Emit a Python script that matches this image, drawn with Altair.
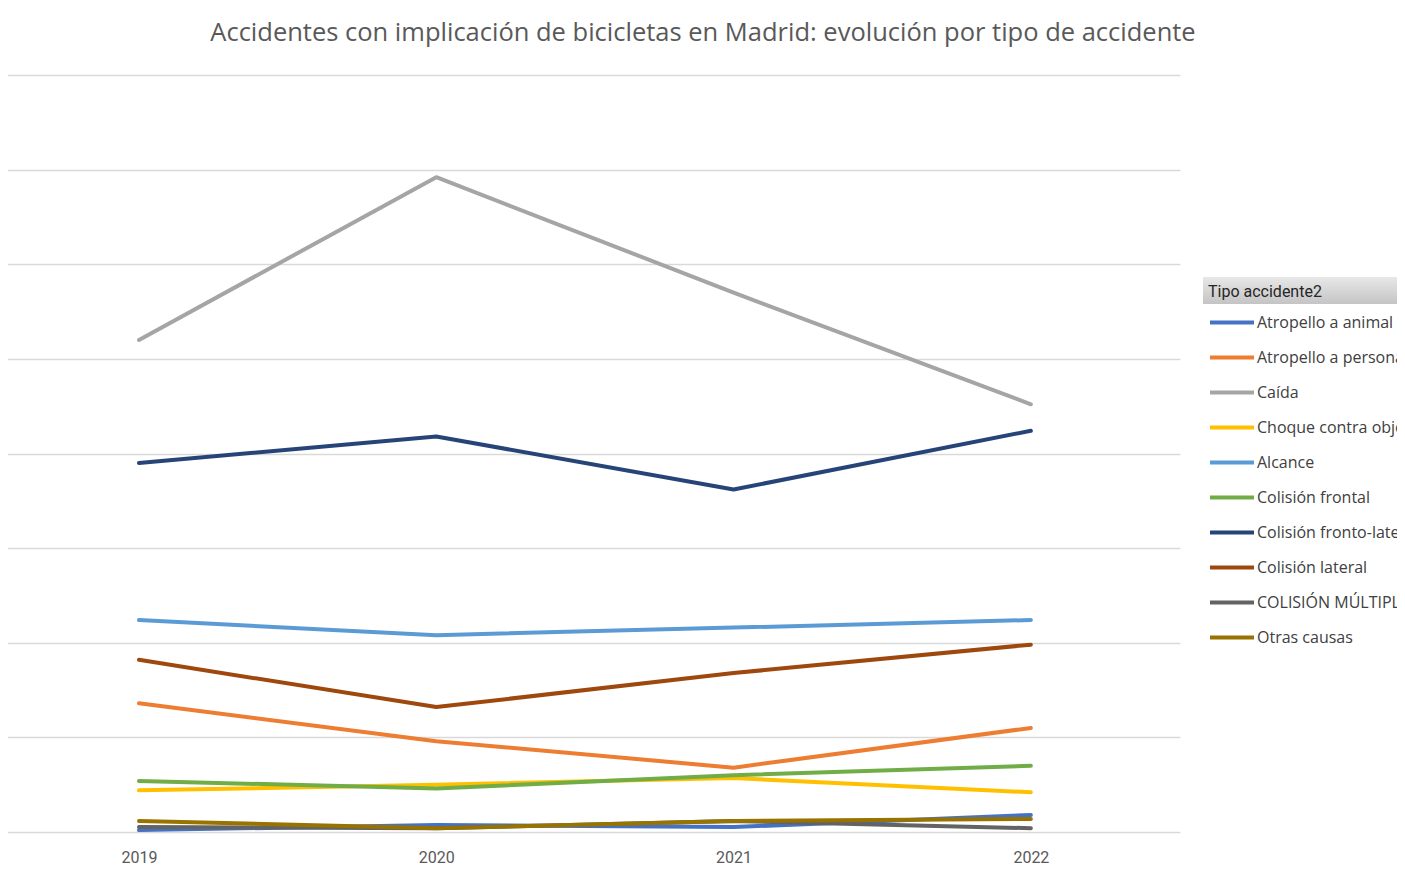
import altair as alt
import pandas as pd

years = [2019, 2020, 2021, 2022]
tipos = ["Atropello a animal", "Atropello a persona", "Caída", "Choque contra objeto fijo",
         "Alcance", "Colisión frontal", "Colisión fronto-lateral", "Colisión lateral",
         "COLISIÓN MÚLTIPLE", "Otras causas"]
colores = ["#4472C4", "#ED7D31", "#A5A5A5", "#FFC000", "#5B9BD5", "#70AD47",
           "#264478", "#9E480E", "#636363", "#997300"]

atropello_animal = [1, 3.7, 2.6, 9]
atropello_persona = [68, 48, 34, 55]
caida = [260, 346, 285, 226]
choque_objeto = [22, 25, 28.5, 21]
alcance = [112, 104, 108, 112]
colision_frontal = [27, 23, 30, 35]
colision_fronto_lateral = [195, 209, 181, 212]
colision_lateral = [91, 66, 84, 99]
colision_multiple = [2.6, 2, 5.8, 2]
otras_causas = [5.8, 2, 5.8, 6.9]

series = [atropello_animal, atropello_persona, caida, choque_objeto, alcance,
          colision_frontal, colision_fronto_lateral, colision_lateral,
          colision_multiple, otras_causas]

rows = []
for t, vals in zip(tipos, series):
    for y, v in zip(years, vals):
        rows.append({"Año": y, "Tipo accidente2": t, "Valor": v})
df = pd.DataFrame(rows)

lines = alt.Chart(df).mark_line(strokeWidth=4, strokeCap="round", strokeJoin="round").encode(
    x=alt.X("Año:Q",
            scale=alt.Scale(domain=[2018.5325, 2022.5016], nice=False, zero=False),
            axis=alt.Axis(values=years, format="d", title=None, grid=False, domain=False,
                          ticks=False, labelPadding=17, labelFontSize=16,
                          labelFont="Roboto", labelColor="#595959")),
    y=alt.Y("Valor:Q",
            scale=alt.Scale(domain=[0, 400], nice=False),
            axis=alt.Axis(values=list(range(0, 401, 50)), title=None, labels=False,
                          domain=False, ticks=False, grid=True, gridColor="#d9d9d9",
                          gridWidth=1.3)),
    color=alt.Color("Tipo accidente2:N",
                    scale=alt.Scale(domain=tipos, range=colores),
                    legend=alt.Legend(orient="none", legendX=1208, legendY=209,
                                      symbolType="stroke", symbolSize=1936,
                                      symbolStrokeWidth=4, clipHeight=25, rowPadding=10,
                                      labelFont="Open Sans", labelFontSize=16,
                                      labelColor="#404040", labelOffset=1,
                                      labelLimit=400,
                                      title="Tipo accidente2", titleFont="Roboto",
                                      titleFontSize=16, titleFontWeight="normal",
                                      titleColor="#262626", titlePadding=10)),
    order=alt.Order("Año:Q"),
)

header = alt.Chart(pd.DataFrame({"a": [0]})).mark_rect(
    clip=False,
    color=alt.Gradient(gradient="linear", x1=0, y1=0, x2=0, y2=1,
                       stops=[alt.GradientStop(offset=0, color="#e8e8e8"),
                              alt.GradientStop(offset=1, color="#c4c4c4")])
).encode(x=alt.value(1203), x2=alt.value(1410), y=alt.value(202), y2=alt.value(229))

chart = alt.layer(header, lines).properties(
    width=1180, height=757,
    background="white",
    autosize=alt.AutoSizeParams(type="none"),
    padding={"left": -8, "top": 67, "right": 217, "bottom": 34},
    title=alt.TitleParams(
        "Accidentes con implicación de bicicletas en Madrid: evolución por tipo de accidente",
        font="Open Sans", fontSize=25.5, fontWeight="normal", color="#595959",
        anchor="middle", dx=113, offset=9, baseline="alphabetic"),
).configure_view(stroke="transparent", strokeWidth=0)

chart.save("out.html", embed_options={"renderer": "svg", "actions": False})
